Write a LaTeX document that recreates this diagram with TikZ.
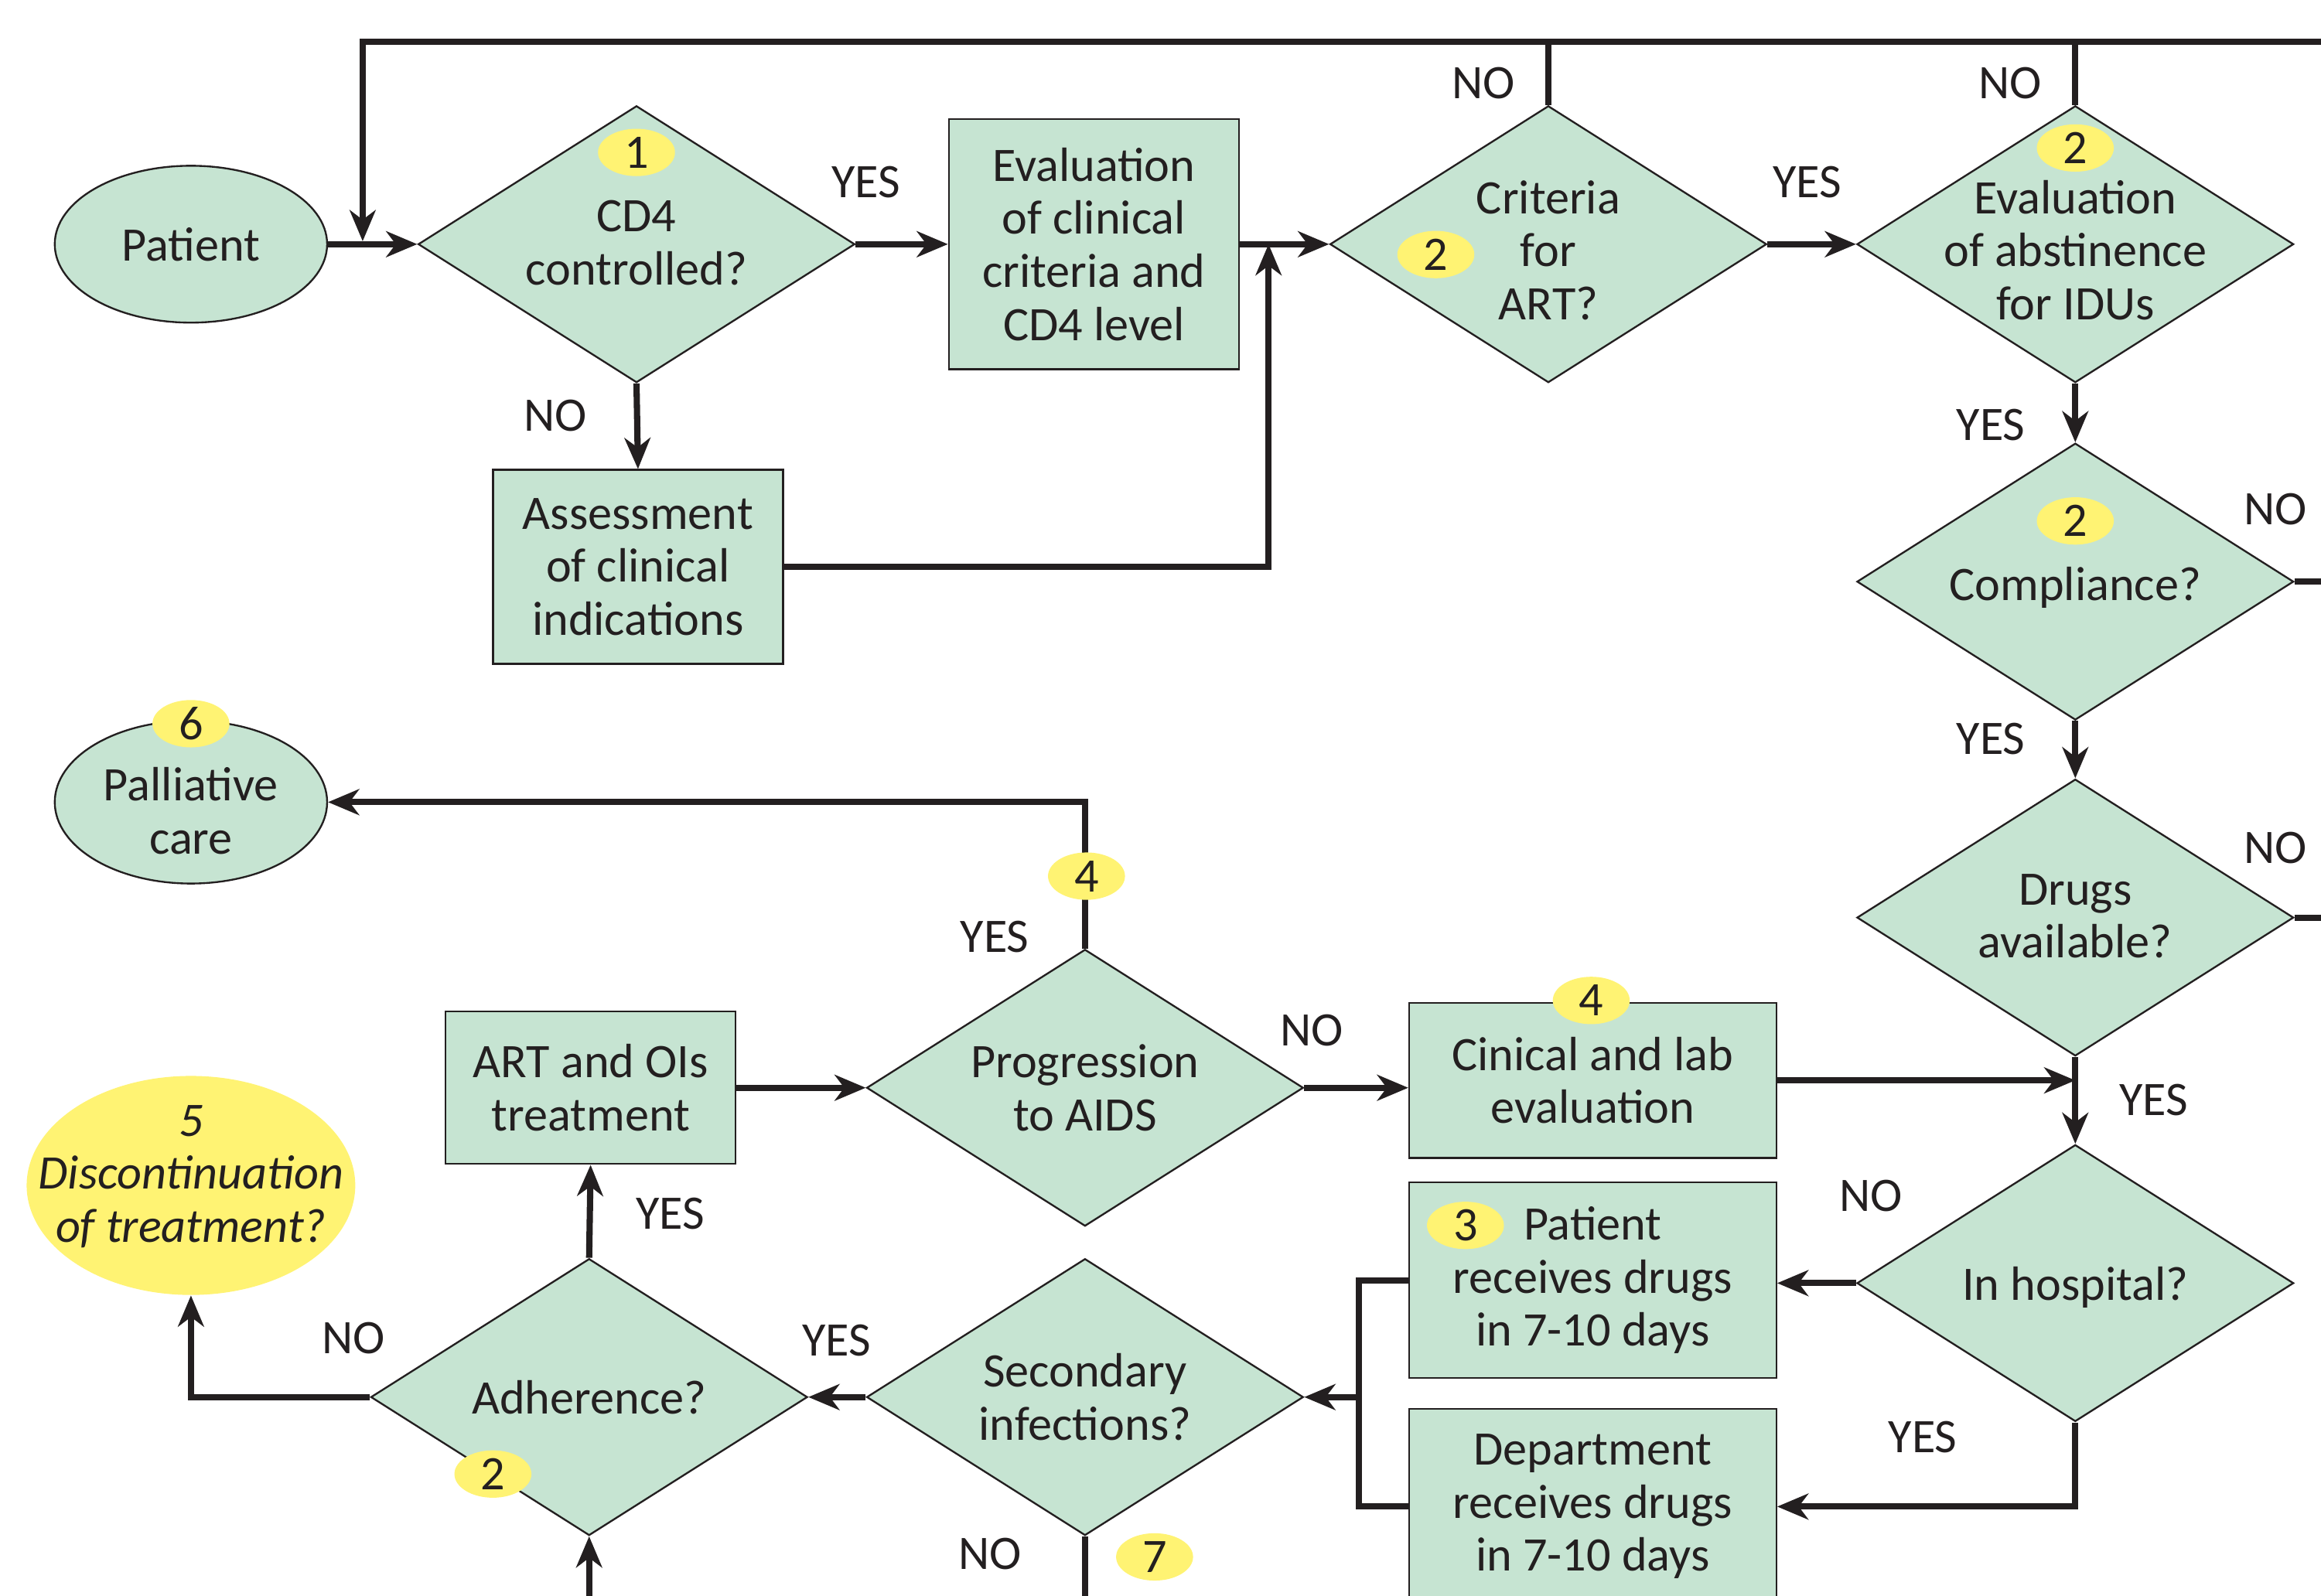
\documentclass[tikz,border=0pt]{standalone}
\usepackage{fontspec}
\setmainfont{Carlito}
\usetikzlibrary{shapes.geometric,arrows.meta}

\definecolor{mint}{RGB}{198,228,210}
\definecolor{hilite}{RGB}{255,243,115}
\definecolor{ink}{RGB}{35,31,32}

\tikzset{
  box/.style={rectangle,draw=ink,fill=mint,line width=0.7pt,align=center,inner sep=0pt,text=ink},
  dia/.style={diamond,draw=ink,fill=mint,line width=0.7pt,inner sep=0pt,minimum width=59mm,minimum height=37.4mm},
  oval/.style={ellipse,draw=ink,fill=mint,line width=0.7pt,inner sep=0pt},
  txt/.style={align=center,text=ink,inner sep=0pt},
  badge/.style={ellipse,fill=hilite,minimum width=10.4mm,minimum height=6.4mm,inner sep=0pt,text=ink},
  flow/.style={line width=2.4pt,draw=ink},
  arr/.style={flow,-{Stealth[length=4.2mm,width=3.5mm,inset=1.3mm]}}
}

\begin{document}
\begin{tikzpicture}[x=0.2mm,y=-0.2mm,font=\fontsize{18.5}{20.4}\selectfont]

  \useasboundingbox (0,0) rectangle (1568,1078);
  \clip (0,0) rectangle (1568,1078);

  % shapes
  \node[oval,minimum width=36.8mm,minimum height=21.2mm] (patient) at (129,165) {};
  \node[txt] (patientt) at (patient) {Patient};
  \node[dia] (cd4) at (430,165) {};
  \node[txt] (cd4t) at (430,164) {CD4\\controlled?};
  \node[box,minimum width=39.2mm,minimum height=33.8mm] (evalcd) at (739,165)
    {Evaluation\\of clinical\\criteria and\\CD4 level};
  \node[box,minimum width=39.2mm,minimum height=26.2mm] (assess) at (431,383)
    {Assessment\\of clinical\\indications};
  \node[dia] (crit) at (1046,165) {};
  \node[txt] (critt) at (1046,169) {Criteria\\for\\ART?};
  \node[dia] (abst) at (1402,165) {};
  \node[txt] (abstt) at (1402,169) {Evaluation\\of abstinence\\for IDUs};
  \node[dia] (compl) at (1402,393) {};
  \node[txt] (complt) at (1402,397) {Compliance?};
  \node[dia] (drugs) at (1402,620) {};
  \node[txt] (drugst) at (1402,619) {Drugs\\available?};
  \node[dia] (hosp) at (1402,867) {};
  \node[txt] (hospt) at (1402,870) {In hospital?};
  \node[box,minimum width=49.6mm,minimum height=21mm] (clin) at (1076,730)
    {Cinical and lab\\evaluation};
  \node[box,minimum width=49.6mm,minimum height=26.4mm] (ptbox) at (1076,865)
    {Patient\\receives drugs\\in 7-10 days};
  \node[box,minimum width=49.6mm,minimum height=26.4mm] (dept) at (1076,1018)
    {Department\\receives drugs\\in 7-10 days};
  \node[dia] (prog) at (733,735) {};
  \node[txt] (progt) at (733,735) {Progression\\to AIDS};
  \node[box,minimum width=39.2mm,minimum height=20.6mm] (art) at (399,735)
    {ART and OIs\\treatment};
  \node[dia] (sec) at (733,944) {};
  \node[txt] (sect) at (733,944) {Secondary\\infections?};
  \node[dia] (adh) at (398,944) {};
  \node[txt] (adht) at (398,944) {Adherence?};
  \node[oval,minimum width=36.8mm,minimum height=22mm] (pall) at (129,542) {};
  \node[txt] (pallt) at (129,548) {Palliative\\care};
  \node[ellipse,fill=hilite,minimum width=44.4mm,minimum height=29.6mm,inner sep=0pt] (disc) at (129,801) {};
  \node[txt,font=\fontsize{18.5}{20.4}\selectfont\itshape] (disct) at (129,795) {5\\Discontinuation\\of treatment?};

  % loose ends
  \coordinate (topr) at (1600,28);
  \coordinate (topl) at (245,28);
  \coordinate (inj) at (245,163);
  \coordinate (j1) at (857,165);
  \coordinate (mx) at (918,944);
  \coordinate (bot) at (0,1100);

  % connectors
  \draw[arr] (patient.east) -- (cd4.west);
  \draw[arr] (topr) -- (topl) -- (inj);
  \draw[arr] (cd4.east) -- (evalcd.west);
  \draw[arr] (cd4.south) -- (assess.north);
  \draw[arr] (assess.east) -| (j1);
  \draw[arr] (evalcd.east) -- (crit.west);
  \draw[flow] (crit.north) -- (crit.north |- topl);
  \draw[arr] (crit.east) -- (abst.west);
  \draw[flow] (abst.north) -- (abst.north |- topl);
  \draw[arr] (abst.south) -- (compl.north);
  \draw[flow] (compl.east) -- (compl.east -| topr);
  \draw[arr] (compl.south) -- (drugs.north);
  \draw[flow] (drugs.east) -- (drugs.east -| topr);
  \draw[arr] (drugs.south) -- (hosp.north);
  \draw[arr] (clin.east) -- (clin.east -| hosp.north);
  \draw[arr] (hosp.west) -- (hosp.west -| ptbox.east);
  \draw[arr] (hosp.south) |- (dept.east);
  \draw[flow] (ptbox.west) -| (mx) |- (dept.west);
  \draw[arr] (mx) -- (sec.east);
  \draw[arr] (sec.west) -- (adh.east);
  \draw[flow] (sec.south) -- (sec.south |- bot);
  \draw[arr] (adh.south |- bot) -- (adh.south);
  \draw[arr] (adh.north) -- (art.south);
  \draw[arr] (adh.west) -| (disc.south);
  \draw[arr] (art.east) -- (prog.west);
  \draw[arr] (prog.east) -- (prog.east -| clin.west);
  \draw[arr] (prog.north) |- (pall.east);

  % branch labels
  \begin{scope}[every node/.style={text=ink}]
    \node (y1) at (585,123) {YES};
    \node (n1) at (375,281) {NO};
    \node (n2) at (1002,56) {NO};
    \node (y2) at (1221,123) {YES};
    \node (n3) at (1358,56) {NO};
    \node (y3) at (1345,287) {YES};
    \node (n4) at (1537,344) {NO};
    \node (y4) at (1345,499) {YES};
    \node (n5) at (1537,573) {NO};
    \node (y5) at (1455,743) {YES};
    \node (n6) at (1264,808) {NO};
    \node (y6) at (1299,971) {YES};
    \node (n7) at (886,696) {NO};
    \node (y7) at (672,633) {YES};
    \node (y8) at (453,820) {YES};
    \node (y9) at (565,906) {YES};
    \node (n8) at (239,904) {NO};
    \node (n9) at (669,1050) {NO};
  \end{scope}

  % numbered notes
  \node[badge] (b1) at (430,103) {1};
  \node[badge] (b2) at (970,172) {2};
  \node[badge] (b3) at (1402,100) {2};
  \node[badge] (b4) at (1402,352) {2};
  \node[badge] (b5) at (129,489) {6};
  \node[badge] (b6) at (734,592) {4};
  \node[badge] (b7) at (1075,676) {4};
  \node[badge] (b8) at (990,828) {3};
  \node[badge] (b9) at (333,996) {2};
  \node[badge] (b10) at (780,1052) {7};

\end{tikzpicture}
\end{document}
